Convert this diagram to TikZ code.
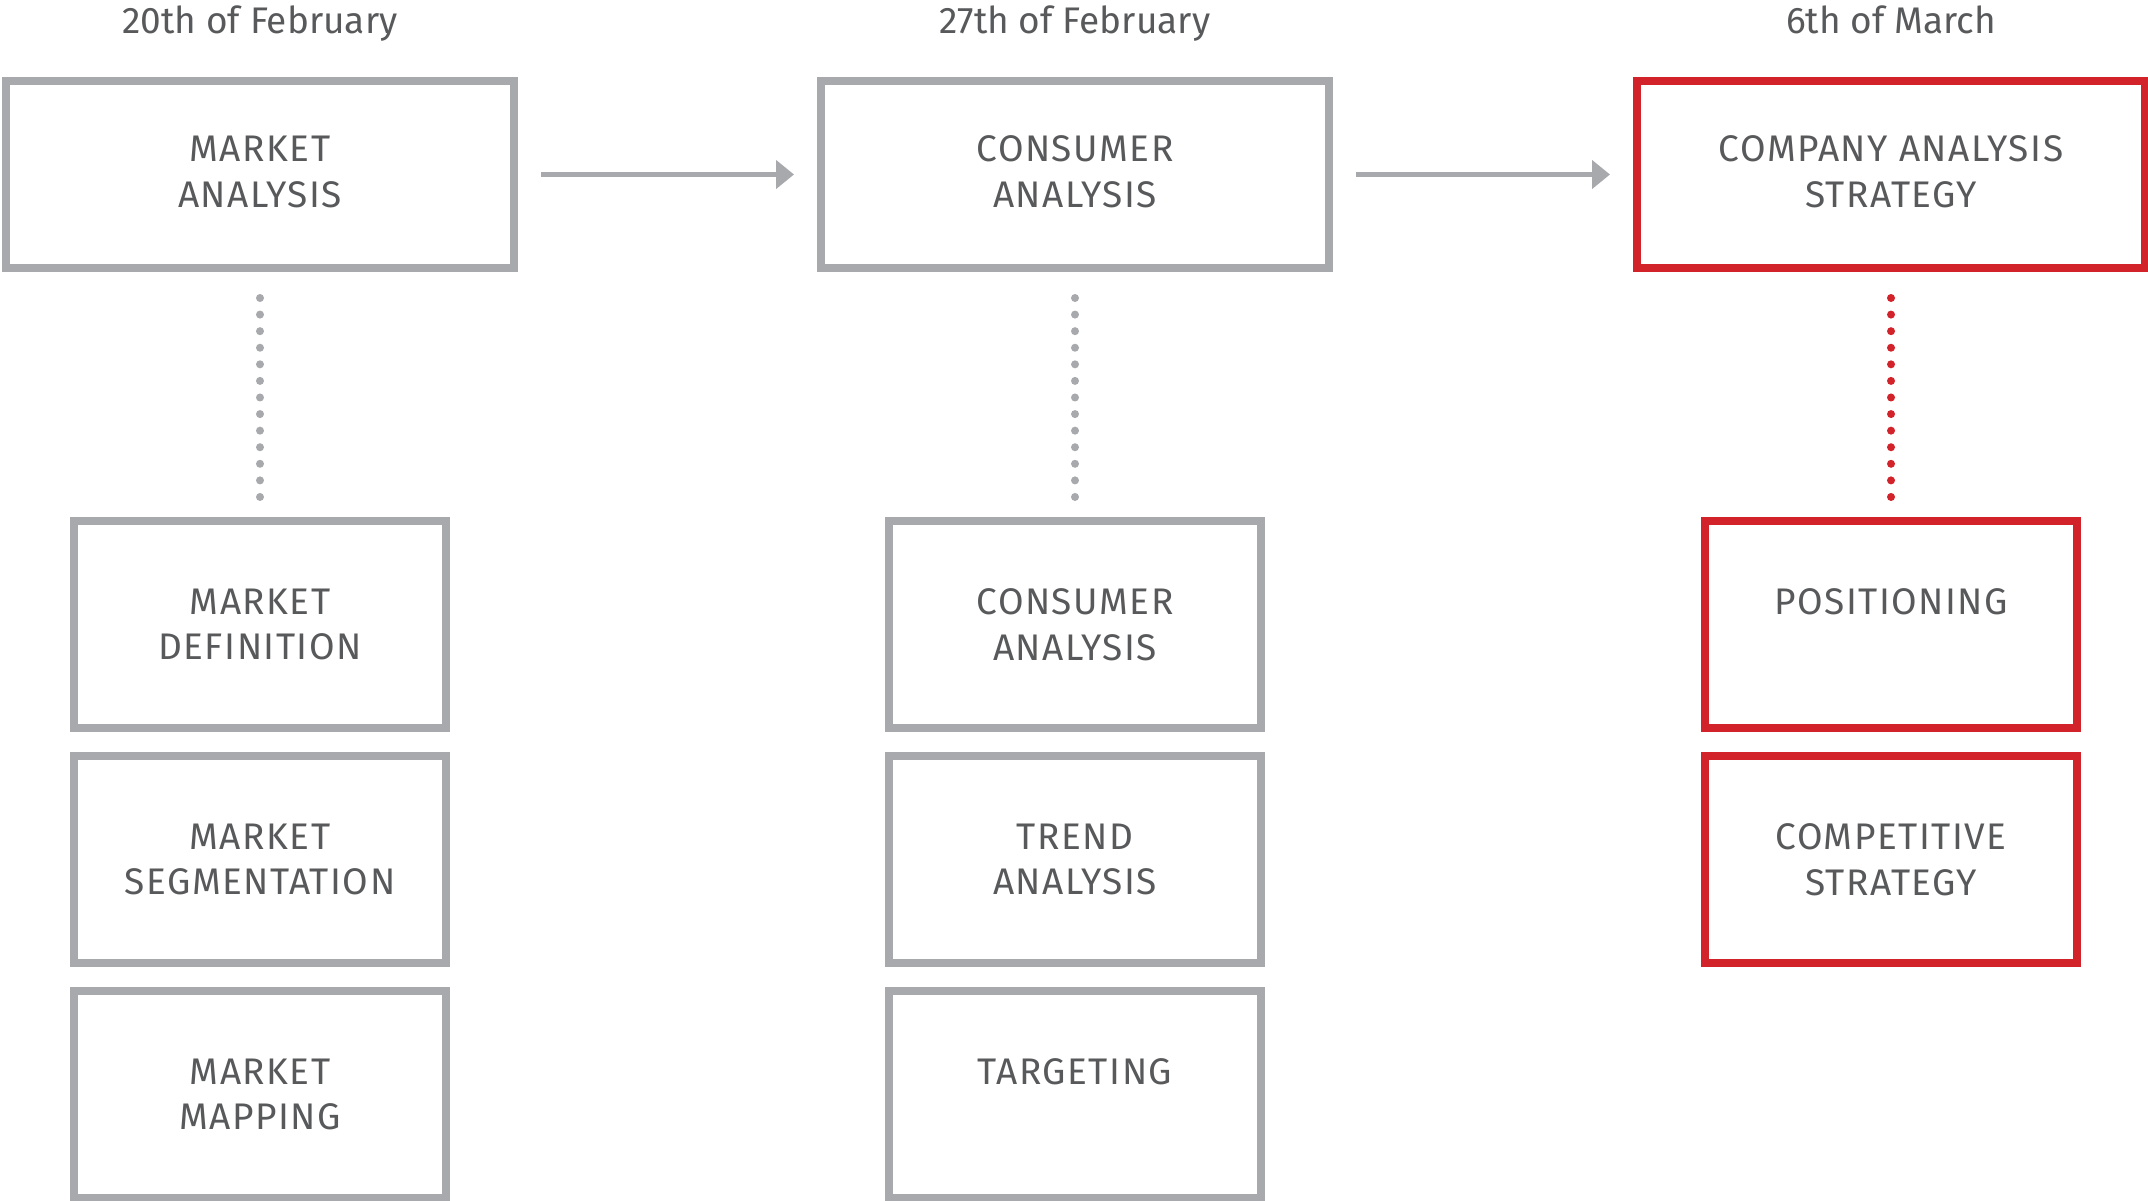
\documentclass[tikz,border=0pt]{standalone}
\usepackage{fontspec}
\setmainfont{Fira Sans}
\newfontfamily\capsfont[LetterSpace=4.0]{Fira Sans}
\usetikzlibrary{arrows.meta}
\definecolor{boxgray}{HTML}{A7A9AC}
\definecolor{boxred}{HTML}{D2232A}
\definecolor{txtgray}{HTML}{58595B}

\begin{document}
\begin{tikzpicture}[x=1pt,y=-1pt,
  lbl/.style={font=\fontsize{37}{45.7}\selectfont, text=txtgray},
  caps/.style={font=\capsfont\fontsize{37}{45.7}\selectfont, text=txtgray},
  stagebox/.style={rectangle, draw=boxgray, line width=8pt, inner sep=0pt,
    minimum width=508pt, minimum height=187pt, align=center, caps, text depth=6pt},
  taskbox/.style={rectangle, draw=boxgray, line width=8pt, inner sep=0pt,
    minimum width=372pt, minimum height=207pt, align=center, caps},
  hot/.style={draw=boxred},
  flow/.style={draw=boxgray, line width=5pt, -{Triangle[length=18pt,width=28pt]},
    shorten <=23pt, shorten >=23pt},
  dots/.style={line width=8pt, line cap=round, dash pattern=on 0pt off 16.58pt,
    shorten <=26pt, shorten >=20pt}
]
% canvas
\fill[white] (0,0) rectangle (2148,1200);
\useasboundingbox (0,0) rectangle (2148,1200);

% dates
\node[lbl, anchor=base] (d1) at (260,33)  {20th of February};
\node[lbl, anchor=base] (d2) at (1075,33) {27th of February};
\node[lbl, anchor=base] (d3) at (1891,33) {6th of March};

% stages
\node[stagebox] (s1) at (260,174.5)  {MARKET\\ANALYSIS};
\node[stagebox] (s2) at (1075,174.5) {CONSUMER\\ANALYSIS};
\node[stagebox, hot] (s3) at (1891,174.5) {COMPANY ANALYSIS\\STRATEGY};

% tasks of stage 1
\node[taskbox] (a1) at (260,624.5)  {MARKET\\DEFINITION};
\node[taskbox] (a2) at (260,859.5)  {MARKET\\SEGMENTATION};
\node[taskbox] (a3) at (260,1094.5) {MARKET\\MAPPING};

% tasks of stage 2
\node[taskbox] (b1) at (1075,624.5)  {CONSUMER\\ANALYSIS};
\node[taskbox] (b2) at (1075,859.5)  {TREND\\ANALYSIS};
\node[taskbox] (b3) at (1075,1094.5) {TARGETING\\\phantom{T}};

% tasks of stage 3
\node[taskbox, hot] (c1) at (1891,624.5) {POSITIONING\\\phantom{P}};
\node[taskbox, hot] (c2) at (1891,859.5) {COMPETITIVE\\STRATEGY};

% flow between stages
\draw[flow] (s1.east) -- (s2.west);
\draw[flow] (s2.east) -- (s3.west);

% links from stages to their tasks
\draw[dots, boxgray] (s1.south) -- (a1.north);
\draw[dots, boxgray] (s2.south) -- (b1.north);
\draw[dots, boxred]  (s3.south) -- (c1.north);
\end{tikzpicture}
\end{document}
